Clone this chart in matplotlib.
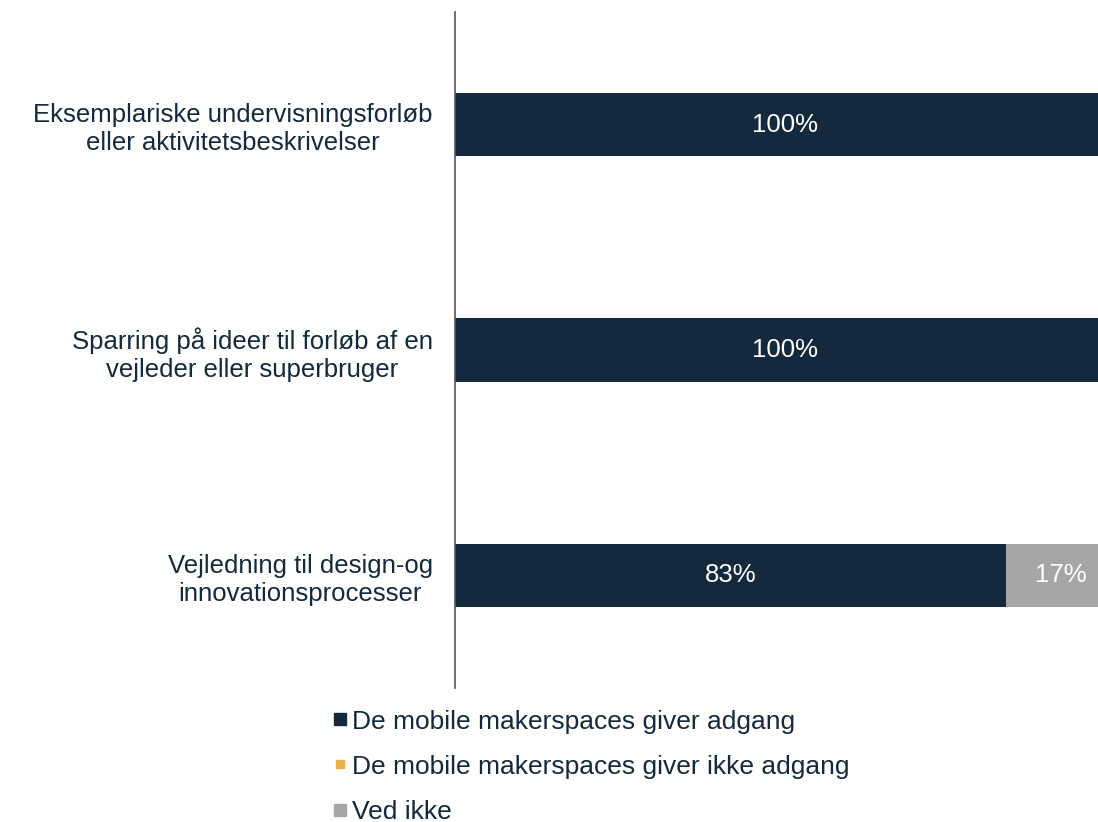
import matplotlib
matplotlib.use("Agg")
import matplotlib.pyplot as plt
from matplotlib.lines import Line2D

plt.rcParams['font.family'] = ['Liberation Sans', 'DejaVu Sans']

categories = ["Eksemplariske undervisningsforløb\neller aktivitetsbeskrivelser",
              "Sparring på ideer til forløb af en\nvejleder eller superbruger",
              "Vejledning til design-og\ninnovationsprocesser"]
adgang = [100, 100, 83.3]
ikke_adgang = [0, 0, 0]
ved_ikke = [0, 0, 16.7]
series_names = ["De mobile makerspaces giver adgang",
                "De mobile makerspaces giver ikke adgang",
                "Ved ikke"]
colors = ["#14293D", "#E8B04A", "#A6A6A6"]
text_color = "#14293D"

FS = 18.5
fig = plt.figure(figsize=(10.98, 8.22), dpi=100)
ax = fig.add_axes([455/1098, 1-688/822, 661/1098, 676/822])

y = list(range(len(categories)))
h = 0.28
left = [0]*3
for vals, col in zip([adgang, ikke_adgang, ved_ikke], colors):
    bars = ax.barh(y, vals, left=left, height=h, color=col)
    for b, v, l in zip(bars, vals, left):
        if v > 0:
            ax.text(l + v/2, b.get_y() + h/2, f"{v:.0f}%", ha='center', va='center',
                    color='white', fontsize=FS)
    left = [a+b for a, b in zip(left, vals)]

ax.set_xlim(0, 100)
ax.set_ylim(2.5, -0.5)
ax.set_yticks(y)
ax.set_yticklabels(categories, fontsize=FS, color=text_color, multialignment='center',
                   linespacing=1.2)
ax.tick_params(axis='y', length=0, pad=16)
ax.set_xticks([])
for s in ['top', 'right', 'bottom']:
    ax.spines[s].set_visible(False)
ax.spines['left'].set_color('#4D5A66')
ax.spines['left'].set_linewidth(1.2)

handles = [Line2D([], [], marker='s', linestyle='none', markersize=9, color=colors[0]),
           Line2D([], [], marker='s', linestyle='none', markersize=5.5, color=colors[1]),
           Line2D([], [], marker='s', linestyle='none', markersize=9, color=colors[2])]
leg = fig.legend(handles, series_names, loc='upper left', bbox_to_anchor=(322/1098, 1-699/822),
                 frameon=False, fontsize=19, handlelength=0.55, handletextpad=0.2,
                 labelspacing=0.8, borderaxespad=0)
for t in leg.get_texts():
    t.set_color(text_color)

fig.text(64/1098, 1+14/822, "g", fontsize=24, color=text_color, ha='left', va='baseline')

fig.savefig("out.png", dpi=100)
